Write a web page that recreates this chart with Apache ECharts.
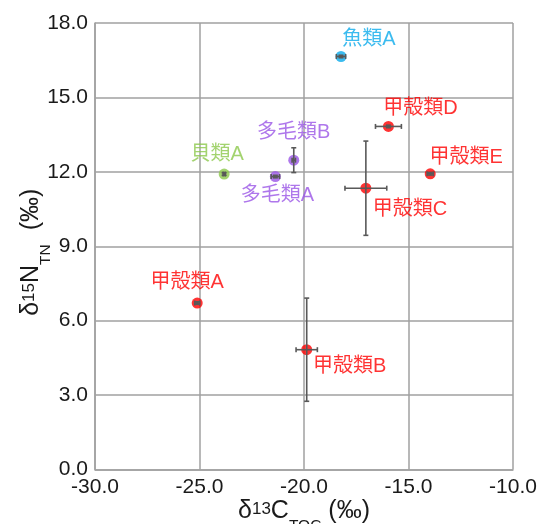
<!DOCTYPE html>
<html><head><meta charset="utf-8">
<script src="https://cdn.jsdelivr.net/npm/echarts@6/dist/echarts.min.js"></script>
<style>html,body{margin:0;padding:0;background:#fff}#c{width:539px;height:524px}</style>
</head><body><div id="c"></div>
<script>
// ---- data ----
const names  = ['魚類A', '甲殻類D', '甲殻類E', '甲殻類C', '多毛類B', '多毛類A', '貝類A', '甲殻類A', '甲殻類B'];
const groups = ['fish', 'crust', 'crust', 'crust', 'poly', 'poly', 'shell', 'crust', 'crust'];
const xVals  = [-18.23, -15.96, -13.96, -17.04, -20.49, -21.37, -23.82, -25.11, -19.87];
const yVals  = [16.65, 13.83, 11.92, 11.34, 12.47, 11.81, 11.91, 6.71, 4.83];
const xErr   = [0.22, 0.62, 0.15, 1.00, 0.08, 0.20, 0.05, 0.12, 0.51];
const yErr   = [0.05, 0.05, 0.05, 1.90, 0.50, 0.05, 0.05, 0.05, 2.08];
const xTicks = [-30, -25, -20, -15, -10];
const yTicks = [0, 3, 6, 9, 12, 15, 18];

// ---- styles ----
const groupColors = { fish: '#0AAAEB', crust: '#FF0000', poly: '#9A55E6', shell: '#8CC84B' };
const labelOffsets = {
  '魚類A': [28, -17], '甲殻類D': [32, -18], '甲殻類E': [36, -16], '甲殻類C': [44, 21],
  '多毛類B': [0, -28], '多毛類A': [2, 19], '貝類A': [-7, -20], '甲殻類A': [-10, -21], '甲殻類B': [43, 17]
};
const FONT = '"Liberation Sans", Arial, "Noto Sans CJK JP", sans-serif';
const TXT = '#1a1a1a';

const chart = echarts.init(document.getElementById('c'), null, { renderer: 'canvas' });

const scatterData = names.map((n, i) => ({
  name: n,
  value: [xVals[i], yVals[i]],
  itemStyle: { color: groupColors[groups[i]] },
  label: { color: groupColors[groups[i]], offset: labelOffsets[n] }
}));

const richTitle = {
  a: { fontSize: 25, fontFamily: FONT, color: TXT, height: 26, lineHeight: 26, verticalAlign: 'top' },
  s: { fontSize: 17, fontFamily: FONT, color: TXT, height: 22, lineHeight: 22, verticalAlign: 'top' },
  b: { fontSize: 15.5, fontFamily: FONT, color: TXT, height: 24, lineHeight: 40, verticalAlign: 'bottom' }
};

const option = {
  animation: false,
  backgroundColor: '#fff',
  grid: { left: 95, right: 26, top: 23, bottom: 54.5, containLabel: false, outerBoundsMode: 'none' },
  xAxis: {
    type: 'value', min: xTicks[0], max: xTicks[xTicks.length - 1], interval: 5,
    axisLine: { show: true, lineStyle: { color: '#a0a0a0', width: 1.5 } },
    axisTick: { show: false },
    splitLine: { show: true, lineStyle: { color: '#a0a0a0', width: 1.5 } },
    axisLabel: { color: TXT, fontSize: 21, fontFamily: FONT, margin: 7, formatter: v => v.toFixed(1) },
    name: '{a|δ}{s|13}{a|C}{b|TOC}{a| (‰)}',
    nameLocation: 'middle', nameGap: 28.5, nameMoveOverlap: false,
    nameTextStyle: { rich: richTitle }
  },
  yAxis: {
    type: 'value', min: yTicks[0], max: yTicks[yTicks.length - 1], interval: 3,
    axisLine: { show: true, lineStyle: { color: '#a0a0a0', width: 1.5 } },
    axisTick: { show: false },
    splitLine: { show: true, lineStyle: { color: '#a0a0a0', width: 1.5 } },
    axisLabel: { color: TXT, fontSize: 21, fontFamily: FONT, margin: 7, formatter: v => v.toFixed(1) },
    name: '{a|δ}{s|15}{a|N}{b|TN}{a|  (‰)}',
    nameLocation: 'middle', nameGap: 37, nameRotate: 90, nameMoveOverlap: false,
    nameTextStyle: { rich: richTitle, padding: [0, 12, 0, 0] }
  },
  series: [
    {
      type: 'scatter', symbol: 'circle', symbolSize: 11, z: 2,
      label: { show: true, position: 'inside', formatter: '{b}', fontSize: 20, fontFamily: FONT },
      data: scatterData
    },
    {
      type: 'custom', z: 3, silent: true,
      renderItem(params, api) {
        const x = api.value(0), y = api.value(1), ex = api.value(2), ey = api.value(3);
        const style = { stroke: '#595959', lineWidth: 1.6, fill: null };
        const cap = 2.5;
        const ch = [];
        if (ex > 0) {
          const l = api.coord([x - ex, y]), r = api.coord([x + ex, y]);
          ch.push({ type: 'line', shape: { x1: l[0], y1: l[1], x2: r[0], y2: r[1] }, style });
          ch.push({ type: 'line', shape: { x1: l[0], y1: l[1] - cap, x2: l[0], y2: l[1] + cap }, style });
          ch.push({ type: 'line', shape: { x1: r[0], y1: r[1] - cap, x2: r[0], y2: r[1] + cap }, style });
        }
        if (ey > 0) {
          const t = api.coord([x, y + ey]), b = api.coord([x, y - ey]);
          ch.push({ type: 'line', shape: { x1: t[0], y1: t[1], x2: b[0], y2: b[1] }, style });
          ch.push({ type: 'line', shape: { x1: t[0] - cap, y1: t[1], x2: t[0] + cap, y2: t[1] }, style });
          ch.push({ type: 'line', shape: { x1: b[0] - cap, y1: b[1], x2: b[0] + cap, y2: b[1] }, style });
        }
        return { type: 'group', children: ch };
      },
      data: names.map((n, i) => [xVals[i], yVals[i], xErr[i], yErr[i]])
    }
  ]
};
chart.setOption(option);
</script>
</body></html>
